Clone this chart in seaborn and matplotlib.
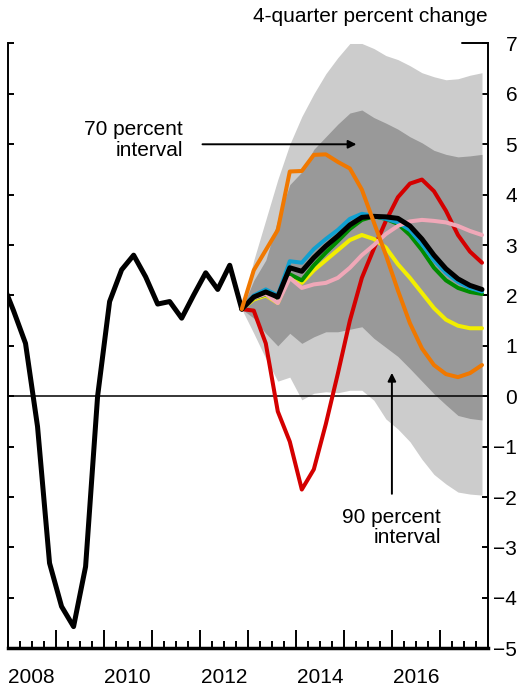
import numpy as np
import pandas as pd
import matplotlib
matplotlib.use("Agg")
import matplotlib.pyplot as plt
import seaborn as sns

# history, 2007Q4 - 2012Q4
hist_quarters = pd.period_range("2007Q4", "2012Q4", freq="Q")
hist = [2.3, 1.7, 1.05, -0.6, -3.31, -4.17, -4.57, -3.38, 0.0, 1.88, 2.51, 2.80,
        2.37, 1.83, 1.88, 1.55, 2.01, 2.45, 2.12, 2.60, 1.73]

# projections, 2012Q4 - 2017Q4
proj_quarters = pd.period_range("2012Q4", "2017Q4", freq="Q")
baseline = [1.73, 1.97, 2.07, 1.97, 2.55, 2.48, 2.75, 2.98, 3.18, 3.40, 3.55,
            3.57, 3.56, 3.53, 3.38, 3.12, 2.80, 2.53, 2.33, 2.20, 2.12]
blue = [1.73, 2.0, 2.12, 2.0, 2.68, 2.65, 2.92, 3.12, 3.3, 3.52, 3.62,
        3.58, 3.52, 3.45, 3.3, 3.02, 2.7, 2.45, 2.27, 2.15, 2.08]
green = [1.73, 1.95, 2.02, 1.9, 2.42, 2.3, 2.6, 2.85, 3.08, 3.32, 3.5,
         3.57, 3.52, 3.42, 3.2, 2.9, 2.55, 2.3, 2.15, 2.07, 2.03]
yellow = [1.73, 1.92, 2.0, 1.85, 2.4, 2.25, 2.5, 2.7, 2.9, 3.1, 3.2,
          3.12, 2.95, 2.62, 2.35, 2.05, 1.75, 1.52, 1.4, 1.35, 1.35]
pink = [1.73, 1.95, 2.03, 1.85, 2.35, 2.15, 2.22, 2.25, 2.35, 2.55, 2.8,
        3.0, 3.22, 3.38, 3.47, 3.5, 3.48, 3.45, 3.38, 3.28, 3.2]
orange = [1.73, 2.5, 2.9, 3.3, 4.46, 4.47, 4.79, 4.8, 4.65, 4.52, 4.1,
          3.45, 2.8, 2.1, 1.45, 0.95, 0.62, 0.44, 0.38, 0.46, 0.62]
red = [1.73, 1.7, 1.05, -0.3, -0.9, -1.85, -1.45, -0.55, 0.45, 1.5, 2.35,
       2.93, 3.48, 3.95, 4.22, 4.3, 4.07, 3.68, 3.2, 2.87, 2.65]

# confidence bands
upper90 = [1.73, 2.7, 3.5, 4.3, 5.0, 5.55, 6.0, 6.4, 6.72, 7.0, 7.0,
           6.9, 6.76, 6.68, 6.56, 6.42, 6.34, 6.28, 6.3, 6.37, 6.42]
upper70 = [1.73, 2.3, 2.7, 3.5, 4.2, 4.45, 4.9, 5.15, 5.4, 5.62, 5.68,
           5.53, 5.42, 5.3, 5.15, 5.03, 4.88, 4.8, 4.75, 4.77, 4.8]
lower70 = [1.73, 1.55, 1.25, 1.0, 1.25, 1.05, 1.18, 1.28, 1.28, 1.33, 1.38,
           1.15, 0.97, 0.79, 0.55, 0.3, 0.05, -0.17, -0.38, -0.44, -0.47]
lower90 = [1.73, 1.25, 0.75, 0.3, 0.38, -0.07, 0.06, 0.09, 0.07, 0.12, 0.12,
           -0.08, -0.45, -0.65, -0.9, -1.25, -1.55, -1.74, -1.9, -1.94, -1.96]

year_labels = ["2008", "2010", "2012", "2014", "2016"]


def qpos(periods):
    # mid-quarter position on a decimal-year axis
    return np.array([p.year + (p.quarter - 0.5) / 4 for p in periods])


xh = qpos(hist_quarters)
xp = qpos(proj_quarters)

sns.set_style("ticks")
plt.rcParams['font.family'] = ['Liberation Sans', 'DejaVu Sans']
plt.rcParams['font.size'] = 15
for k in ['text.color', 'axes.edgecolor', 'xtick.color', 'ytick.color',
          'axes.labelcolor']:
    plt.rcParams[k] = 'black'

fig = plt.figure(figsize=(5.22, 6.88), dpi=100)
ax = fig.add_axes([0.01437, 0.0577, 0.9205, 0.8791])

ax.fill_between(xp, lower90, upper90, color='#cccccc', lw=0, zorder=1)
ax.fill_between(xp, lower70, upper70, color='#999999', lw=0, zorder=1.1)
ax.axhline(0, color='black', lw=1.1, zorder=2)

series = [
    (red, '#d40000', 2.9),
    (yellow, '#f2ee00', 2.9),
    (green, '#008c00', 2.9),
    (blue, '#10a0d0', 2.9),
    (pink, '#f0a8b8', 2.9),
]
for vals, col, lw in series:
    sns.lineplot(x=xp, y=vals, color=col, lw=lw, ax=ax, zorder=3)
sns.lineplot(x=xp, y=baseline, color='black', lw=3.6, ax=ax, zorder=4)
sns.lineplot(x=xh, y=hist, color='black', lw=3.6, ax=ax, zorder=4)
sns.lineplot(x=xp, y=orange, color='#f07800', lw=2.9, ax=ax, zorder=5)

ax.set_xlim(2008, 2018)
ax.set_ylim(-5, 7)

# year / quarter ticks
ax.set_xticks(np.arange(2008, 2019))
ax.set_xticks(np.arange(2008, 2018.01, 0.25), minor=True)
ax.set_xticklabels([])
ax.tick_params(axis='x', which='major', direction='in', length=13, width=1.4)
ax.tick_params(axis='x', which='minor', direction='in', length=5, width=1.4)

sec = ax.secondary_xaxis('bottom')
sec.set_xticks([int(y) + 0.5 for y in year_labels])
sec.set_xticklabels(year_labels)
sec.tick_params(length=0, pad=14, labelsize=15, labelcolor='black')
sec.spines['bottom'].set_visible(False)

ax.set_yticks(np.arange(-5, 8))
ax.tick_params(axis='y', which='both', direction='in', length=4.5, width=1.4,
               left=True, right=True, labelleft=False, labelright=True, pad=21,
               labelcolor='black')
for lab in ax.get_yticklabels():
    lab.set_horizontalalignment('right')

for side in ['left', 'right']:
    ax.spines[side].set_linewidth(1.4)
ax.spines['bottom'].set_linewidth(2.5)
ax.spines['top'].set_visible(False)
ax.axhline(7, xmin=0.946, xmax=1, color='black', lw=1.4, clip_on=False)

ax.set_xlabel('')
ax.set_ylabel('')

ax.text(1.0, 1.044, '4-quarter percent change', transform=ax.transAxes,
        ha='right', va='center', fontsize=15)

ax.annotate('', xy=(2015.32, 5.0), xytext=(2012.0, 5.0),
            arrowprops=dict(arrowstyle='-|>', color='black', lw=1.4,
                            mutation_scale=12))
ax.text(2011.645, 5.085, '70 percent\ninterval', ha='right', va='center',
        multialignment='right', fontsize=15, linespacing=1.1)

ax.annotate('', xy=(2016.0, 0.52), xytext=(2016.0, -1.99),
            arrowprops=dict(arrowstyle='-|>', color='black', lw=1.4,
                            mutation_scale=12))
ax.text(2017.02, -2.6, '90 percent\ninterval', ha='right', va='center',
        multialignment='right', fontsize=15, linespacing=1.1)

fig.savefig('out.png', dpi=100)
